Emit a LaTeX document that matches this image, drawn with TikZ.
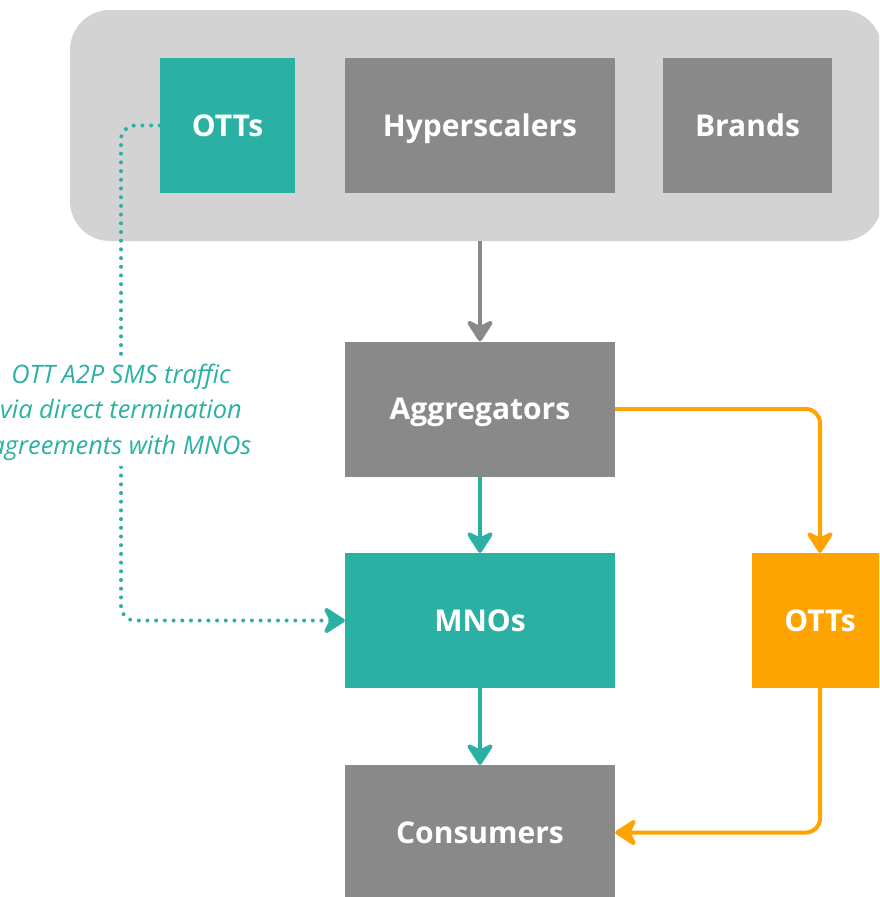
\documentclass[tikz,border=0pt]{standalone}
\usepackage{fontspec}
\setmainfont{Open Sans}
\usetikzlibrary{arrows.meta}
\definecolor{teal1}{RGB}{43,177,163}
\definecolor{gbox}{RGB}{137,137,137}
\definecolor{gcont}{RGB}{211,211,211}
\definecolor{orng}{RGB}{255,163,0}
\tikzset{
  boxn/.style={rectangle, minimum height=135pt, inner sep=0pt, text height=21.4pt, text depth=0pt, text=white, font=\fontsize{30}{34}\selectfont\bfseries},
  graybox/.style={boxn, fill=gbox},
  tealbox/.style={boxn, fill=teal1},
  orangebox/.style={boxn, fill=orng},
  conn/.style={line width=4pt, -{Stealth[length=25pt, width=32pt, inset=8pt, round]}},
}
\begin{document}
\begin{tikzpicture}[x=1pt, y=-1pt]
\useasboundingbox (0,0) rectangle (879,897);
\clip (0,0) rectangle (879,897);
\fill[white] (0,0) rectangle (879,897);
\node[rectangle, fill=gcont, rounded corners=40pt, minimum width=812pt, minimum height=231pt, inner sep=0pt] (cont) at (476,125.5) {};
\node[tealbox, minimum width=135pt] (ottA) at (227.5,125.5) {OTTs};
\node[graybox, minimum width=270pt] (hyper) at (480,125.5) {Hyperscalers};
\node[graybox, minimum width=169pt] (brands) at (747.5,125.5) {Brands};
\node[graybox, minimum width=270pt] (agg) at (480,409) {Aggregators};
\node[tealbox, minimum width=270pt] (mno) at (480,620.5) {MNOs};
\node[graybox, minimum width=270pt] (cons) at (480,832.5) {Consumers};
\node[orangebox, minimum width=136pt] (ott2) at (820,620.5) {OTTs};
\draw[conn, gbox] (agg.north |- cont.south) -- (agg.north);
\draw[conn, teal1] (agg.south) -- (mno.north);
\draw[conn, teal1] (mno.south) -- (cons.north);
\draw[conn, orng, rounded corners=14pt] (agg.east) -- (ott2.north |- agg.east) -- (ott2.north);
\draw[conn, orng, rounded corners=14pt] (ott2.south) -- (ott2.south |- cons.east) -- (cons.east);
\coordinate (bend) at (121,125.5);
\draw[teal1, line width=4pt, line cap=round, dash pattern=on 0pt off 8.7pt, rounded corners=14pt, -{Stealth[length=25pt, width=32pt, inset=8pt, round, sep=0pt]}] (ottA.west) -- (bend) |- (mno.west);
\node[fill=white, text=teal1, align=center, inner xsep=4pt, inner ysep=6pt, font=\fontsize{25.4}{35.5}\selectfont\itshape] (lbl) at (121,412) {OTT A2P SMS traffic\\via direct termination\\agreements with MNOs};
\end{tikzpicture}
\end{document}
